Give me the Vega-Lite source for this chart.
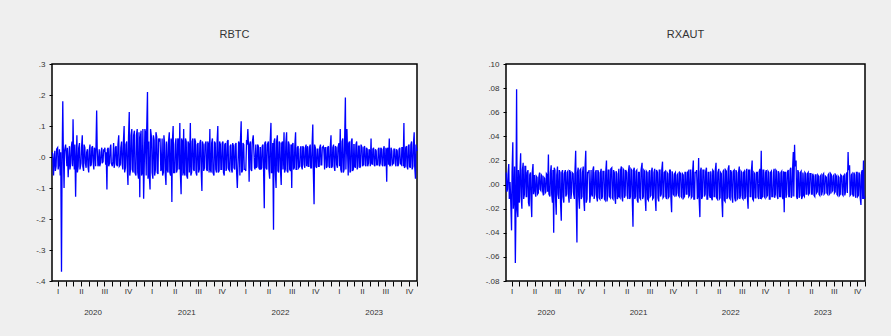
{
"$schema":"https://vega.github.io/schema/vega-lite/v6.json",
"background":"#efefef",
"padding":{"left":34,"top":28,"right":28,"bottom":20},
"data":{"values":[
{"d":"2019-12-11","b":0.015,"g":0.010},{"d":"2019-12-13","b":0.010,"g":-0.006},{"d":"2019-12-16","b":-0.060,"g":-0.004},{"d":"2019-12-18","b":-0.015,"g":0.008},{"d":"2019-12-21","b":0.020,"g":0.017},{"d":"2019-12-23","b":-0.045,"g":-0.012},{"d":"2019-12-26","b":-0.030,"g":0.002},{"d":"2019-12-28","b":0.025,"g":-0.008},
{"d":"2020-01-01","b":0.030,"g":-0.038},{"d":"2020-01-03","b":-0.040,"g":0.010},{"d":"2020-01-06","b":-0.020,"g":0.035},{"d":"2020-01-08","b":0.025,"g":-0.020},{"d":"2020-01-11","b":-0.060,"g":-0.010},{"d":"2020-01-13","b":0.015,"g":0.015},{"d":"2020-01-16","b":-0.370,"g":-0.065},{"d":"2020-01-18","b":-0.050,"g":-0.030},{"d":"2020-01-21","b":0.180,"g":0.079},{"d":"2020-01-23","b":0.030,"g":-0.020},{"d":"2020-01-26","b":-0.100,"g":-0.027},{"d":"2020-01-28","b":0.020,"g":0.012},
{"d":"2020-02-01","b":0.040,"g":-0.015},{"d":"2020-02-03","b":0.015,"g":0.008},{"d":"2020-02-06","b":-0.030,"g":0.026},{"d":"2020-02-08","b":0.030,"g":-0.010},{"d":"2020-02-11","b":-0.065,"g":-0.020},{"d":"2020-02-13","b":-0.020,"g":0.012},{"d":"2020-02-16","b":0.035,"g":0.018},{"d":"2020-02-18","b":-0.040,"g":-0.012},{"d":"2020-02-21","b":-0.020,"g":-0.008},{"d":"2020-02-23","b":0.030,"g":0.015},{"d":"2020-02-26","b":0.050,"g":0.015},{"d":"2020-02-28","b":-0.030,"g":-0.010},
{"d":"2020-03-01","b":0.122,"g":-0.010},{"d":"2020-03-03","b":0.020,"g":0.010},{"d":"2020-03-06","b":-0.040,"g":0.012},{"d":"2020-03-08","b":0.040,"g":-0.015},{"d":"2020-03-11","b":-0.128,"g":-0.018},{"d":"2020-03-13","b":-0.020,"g":0.008},{"d":"2020-03-16","b":0.070,"g":0.010},{"d":"2020-03-18","b":-0.050,"g":-0.012},{"d":"2020-03-21","b":-0.030,"g":-0.027},{"d":"2020-03-23","b":0.030,"g":0.010},{"d":"2020-03-26","b":0.045,"g":0.017},{"d":"2020-03-28","b":-0.040,"g":-0.008},
{"d":"2020-04-01","b":-0.020,"g":0.008},{"d":"2020-04-03","b":0.030,"g":-0.006},{"d":"2020-04-06","b":0.070,"g":-0.010},{"d":"2020-04-08","b":-0.030,"g":0.007},{"d":"2020-04-11","b":-0.045,"g":0.006},{"d":"2020-04-13","b":0.040,"g":-0.008},{"d":"2020-04-16","b":0.030,"g":-0.007},{"d":"2020-04-18","b":-0.020,"g":0.006},{"d":"2020-04-21","b":-0.035,"g":0.010},{"d":"2020-04-23","b":0.015,"g":-0.004},{"d":"2020-04-26","b":0.025,"g":-0.005},{"d":"2020-04-28","b":-0.030,"g":0.008},
{"d":"2020-05-01","b":-0.050,"g":0.007},{"d":"2020-05-03","b":0.020,"g":-0.005},{"d":"2020-05-06","b":0.040,"g":-0.009},{"d":"2020-05-08","b":-0.030,"g":0.006},{"d":"2020-05-11","b":-0.025,"g":0.005},{"d":"2020-05-13","b":0.030,"g":-0.007},{"d":"2020-05-16","b":0.035,"g":-0.006},{"d":"2020-05-18","b":-0.015,"g":0.009},{"d":"2020-05-21","b":-0.040,"g":0.008},{"d":"2020-05-23","b":0.030,"g":-0.006},{"d":"2020-05-26","b":0.020,"g":0.025},{"d":"2020-05-28","b":-0.030,"g":-0.008},
{"d":"2020-06-01","b":0.150,"g":-0.010},{"d":"2020-06-03","b":0.030,"g":0.010},{"d":"2020-06-06","b":-0.030,"g":0.016},{"d":"2020-06-08","b":-0.025,"g":-0.008},{"d":"2020-06-11","b":0.025,"g":-0.015},{"d":"2020-06-13","b":-0.030,"g":0.012},{"d":"2020-06-16","b":-0.020,"g":-0.040},{"d":"2020-06-18","b":0.015,"g":0.014},{"d":"2020-06-21","b":0.030,"g":0.012},{"d":"2020-06-23","b":-0.020,"g":-0.010},{"d":"2020-06-26","b":-0.015,"g":-0.025},{"d":"2020-06-28","b":0.025,"g":0.008},
{"d":"2020-07-01","b":0.020,"g":0.015},{"d":"2020-07-03","b":0.030,"g":-0.008},{"d":"2020-07-06","b":-0.025,"g":-0.012},{"d":"2020-07-08","b":0.015,"g":0.012},{"d":"2020-07-11","b":-0.105,"g":0.010},{"d":"2020-07-13","b":0.025,"g":-0.015},{"d":"2020-07-16","b":0.030,"g":-0.030},{"d":"2020-07-18","b":-0.030,"g":0.010},{"d":"2020-07-21","b":-0.020,"g":0.012},{"d":"2020-07-23","b":0.025,"g":-0.010},{"d":"2020-07-26","b":0.040,"g":-0.015},{"d":"2020-07-28","b":-0.020,"g":0.009},
{"d":"2020-08-01","b":-0.030,"g":0.012},{"d":"2020-08-03","b":-0.015,"g":-0.010},{"d":"2020-08-06","b":0.045,"g":-0.008},{"d":"2020-08-08","b":-0.035,"g":0.010},{"d":"2020-08-11","b":-0.020,"g":0.011},{"d":"2020-08-13","b":0.030,"g":-0.008},{"d":"2020-08-16","b":0.035,"g":-0.015},{"d":"2020-08-18","b":-0.025,"g":0.012},{"d":"2020-08-21","b":-0.030,"g":0.010},{"d":"2020-08-23","b":0.040,"g":-0.012},{"d":"2020-08-26","b":0.070,"g":-0.006},{"d":"2020-08-28","b":-0.030,"g":0.010},
{"d":"2020-09-01","b":-0.025,"g":0.009},{"d":"2020-09-03","b":0.030,"g":-0.008},{"d":"2020-09-06","b":0.050,"g":-0.012},{"d":"2020-09-08","b":-0.020,"g":0.010},{"d":"2020-09-11","b":-0.040,"g":0.028},{"d":"2020-09-13","b":0.045,"g":-0.012},{"d":"2020-09-16","b":0.100,"g":-0.048},{"d":"2020-09-18","b":-0.050,"g":0.010},{"d":"2020-09-21","b":-0.035,"g":0.014},{"d":"2020-09-23","b":0.040,"g":-0.010},{"d":"2020-09-26","b":0.050,"g":-0.020},{"d":"2020-09-28","b":-0.030,"g":0.012},
{"d":"2020-10-01","b":-0.090,"g":0.013},{"d":"2020-10-03","b":0.060,"g":-0.012},{"d":"2020-10-06","b":0.145,"g":-0.010},{"d":"2020-10-08","b":-0.060,"g":0.010},{"d":"2020-10-11","b":-0.040,"g":0.015},{"d":"2020-10-13","b":0.070,"g":-0.012},{"d":"2020-10-16","b":0.090,"g":-0.022},{"d":"2020-10-18","b":-0.040,"g":0.014},{"d":"2020-10-21","b":-0.050,"g":0.028},{"d":"2020-10-23","b":0.070,"g":-0.015},{"d":"2020-10-26","b":0.085,"g":-0.012},{"d":"2020-10-28","b":-0.050,"g":0.010},
{"d":"2020-11-01","b":-0.060,"g":0.010},{"d":"2020-11-03","b":0.070,"g":0.012},{"d":"2020-11-06","b":0.090,"g":-0.015},{"d":"2020-11-08","b":-0.050,"g":-0.010},{"d":"2020-11-11","b":-0.070,"g":0.012},{"d":"2020-11-13","b":0.080,"g":-0.008},{"d":"2020-11-16","b":-0.130,"g":-0.010},{"d":"2020-11-18","b":0.060,"g":0.012},{"d":"2020-11-21","b":0.085,"g":0.015},{"d":"2020-11-23","b":-0.060,"g":-0.012},{"d":"2020-11-26","b":-0.050,"g":-0.008},{"d":"2020-11-28","b":0.090,"g":0.010},
{"d":"2020-12-01","b":-0.135,"g":0.012},{"d":"2020-12-03","b":-0.050,"g":-0.010},{"d":"2020-12-06","b":0.090,"g":-0.014},{"d":"2020-12-08","b":0.080,"g":0.012},{"d":"2020-12-11","b":-0.060,"g":0.010},{"d":"2020-12-13","b":0.090,"g":-0.011},{"d":"2020-12-16","b":0.210,"g":-0.012},{"d":"2020-12-18","b":-0.070,"g":0.010},{"d":"2020-12-21","b":0.050,"g":0.013},{"d":"2020-12-23","b":-0.060,"g":-0.012},{"d":"2020-12-26","b":-0.105,"g":-0.010},{"d":"2020-12-28","b":0.090,"g":0.011},
{"d":"2021-01-01","b":0.060,"g":0.011},{"d":"2021-01-03","b":-0.050,"g":-0.012},{"d":"2021-01-06","b":-0.070,"g":-0.013},{"d":"2021-01-08","b":0.070,"g":0.010},{"d":"2021-01-11","b":0.055,"g":0.020},{"d":"2021-01-13","b":-0.060,"g":-0.014},{"d":"2021-01-16","b":-0.040,"g":-0.009},{"d":"2021-01-18","b":0.080,"g":0.012},{"d":"2021-01-21","b":0.065,"g":0.012},{"d":"2021-01-23","b":-0.050,"g":-0.010},{"d":"2021-01-26","b":-0.055,"g":-0.011},{"d":"2021-01-28","b":0.060,"g":0.013},
{"d":"2021-02-01","b":0.050,"g":0.014},{"d":"2021-02-03","b":0.060,"g":-0.011},{"d":"2021-02-06","b":-0.045,"g":-0.012},{"d":"2021-02-08","b":-0.040,"g":0.012},{"d":"2021-02-11","b":0.060,"g":0.010},{"d":"2021-02-13","b":-0.060,"g":-0.010},{"d":"2021-02-16","b":-0.050,"g":-0.016},{"d":"2021-02-18","b":0.070,"g":0.011},{"d":"2021-02-21","b":0.040,"g":0.009},{"d":"2021-02-23","b":-0.050,"g":-0.012},{"d":"2021-02-26","b":-0.090,"g":-0.010},{"d":"2021-02-28","b":0.050,"g":0.010},
{"d":"2021-03-01","b":0.040,"g":0.013},{"d":"2021-03-03","b":-0.040,"g":-0.010},{"d":"2021-03-06","b":-0.050,"g":-0.011},{"d":"2021-03-08","b":0.050,"g":0.012},{"d":"2021-03-11","b":0.080,"g":0.015},{"d":"2021-03-13","b":-0.050,"g":-0.010},{"d":"2021-03-16","b":-0.060,"g":-0.014},{"d":"2021-03-18","b":0.060,"g":0.013},{"d":"2021-03-21","b":-0.145,"g":0.012},{"d":"2021-03-23","b":0.050,"g":-0.011},{"d":"2021-03-26","b":0.100,"g":-0.009},{"d":"2021-03-28","b":-0.050,"g":0.012},
{"d":"2021-04-01","b":-0.050,"g":0.010},{"d":"2021-04-03","b":0.040,"g":-0.009},{"d":"2021-04-06","b":0.060,"g":-0.012},{"d":"2021-04-08","b":-0.050,"g":0.011},{"d":"2021-04-11","b":-0.040,"g":0.016},{"d":"2021-04-13","b":0.060,"g":-0.012},{"d":"2021-04-16","b":0.055,"g":-0.010},{"d":"2021-04-18","b":-0.040,"g":0.013},{"d":"2021-04-21","b":0.110,"g":0.012},{"d":"2021-04-23","b":-0.050,"g":-0.010},{"d":"2021-04-26","b":-0.120,"g":-0.035},{"d":"2021-04-28","b":0.060,"g":0.012},
{"d":"2021-05-01","b":0.050,"g":0.014},{"d":"2021-05-03","b":-0.060,"g":-0.012},{"d":"2021-05-06","b":0.090,"g":-0.010},{"d":"2021-05-08","b":-0.050,"g":0.011},{"d":"2021-05-11","b":-0.060,"g":0.012},{"d":"2021-05-13","b":0.060,"g":-0.013},{"d":"2021-05-16","b":0.050,"g":-0.015},{"d":"2021-05-18","b":-0.060,"g":0.010},{"d":"2021-05-21","b":-0.070,"g":0.010},{"d":"2021-05-23","b":0.050,"g":-0.011},{"d":"2021-05-26","b":0.040,"g":-0.012},{"d":"2021-05-28","b":-0.050,"g":0.012},
{"d":"2021-06-01","b":0.110,"g":0.018},{"d":"2021-06-03","b":-0.060,"g":-0.012},{"d":"2021-06-06","b":-0.050,"g":-0.010},{"d":"2021-06-08","b":0.050,"g":0.012},{"d":"2021-06-11","b":0.060,"g":0.011},{"d":"2021-06-13","b":-0.040,"g":-0.010},{"d":"2021-06-16","b":-0.045,"g":-0.022},{"d":"2021-06-18","b":0.060,"g":0.011},{"d":"2021-06-21","b":0.050,"g":0.010},{"d":"2021-06-23","b":-0.050,"g":-0.012},{"d":"2021-06-26","b":-0.060,"g":-0.013},{"d":"2021-06-28","b":0.040,"g":0.010},
{"d":"2021-07-01","b":0.045,"g":0.012},{"d":"2021-07-03","b":-0.050,"g":-0.010},{"d":"2021-07-06","b":-0.040,"g":-0.009},{"d":"2021-07-08","b":0.045,"g":0.011},{"d":"2021-07-11","b":0.055,"g":0.014},{"d":"2021-07-13","b":-0.040,"g":-0.012},{"d":"2021-07-16","b":-0.110,"g":-0.011},{"d":"2021-07-18","b":0.050,"g":0.010},{"d":"2021-07-21","b":0.040,"g":0.013},{"d":"2021-07-23","b":-0.045,"g":-0.010},{"d":"2021-07-26","b":-0.035,"g":-0.022},{"d":"2021-07-28","b":0.040,"g":0.012},
{"d":"2021-08-01","b":0.050,"g":0.010},{"d":"2021-08-03","b":-0.040,"g":-0.011},{"d":"2021-08-06","b":-0.045,"g":-0.014},{"d":"2021-08-08","b":0.050,"g":0.012},{"d":"2021-08-11","b":0.040,"g":0.012},{"d":"2021-08-13","b":-0.050,"g":-0.010},{"d":"2021-08-16","b":0.090,"g":-0.008},{"d":"2021-08-18","b":-0.040,"g":0.012},{"d":"2021-08-21","b":-0.050,"g":0.019},{"d":"2021-08-23","b":0.045,"g":-0.011},{"d":"2021-08-26","b":0.060,"g":-0.010},{"d":"2021-08-28","b":-0.050,"g":0.010},
{"d":"2021-09-01","b":-0.060,"g":0.011},{"d":"2021-09-03","b":0.050,"g":-0.010},{"d":"2021-09-06","b":0.045,"g":-0.012},{"d":"2021-09-08","b":-0.040,"g":0.010},{"d":"2021-09-11","b":-0.050,"g":0.009},{"d":"2021-09-13","b":0.045,"g":-0.011},{"d":"2021-09-16","b":0.100,"g":-0.010},{"d":"2021-09-18","b":-0.050,"g":0.012},{"d":"2021-09-21","b":-0.045,"g":0.012},{"d":"2021-09-23","b":0.050,"g":-0.010},{"d":"2021-09-26","b":0.040,"g":-0.023},{"d":"2021-09-28","b":-0.040,"g":0.011},
{"d":"2021-10-01","b":-0.040,"g":0.008},{"d":"2021-10-03","b":0.045,"g":-0.008},{"d":"2021-10-06","b":0.050,"g":-0.009},{"d":"2021-10-08","b":-0.050,"g":0.009},{"d":"2021-10-11","b":-0.060,"g":0.010},{"d":"2021-10-13","b":0.040,"g":-0.010},{"d":"2021-10-16","b":0.045,"g":-0.007},{"d":"2021-10-18","b":-0.045,"g":0.008},{"d":"2021-10-21","b":-0.035,"g":0.009},{"d":"2021-10-23","b":0.050,"g":-0.009},{"d":"2021-10-26","b":0.055,"g":-0.010},{"d":"2021-10-28","b":-0.040,"g":0.010},
{"d":"2021-11-01","b":-0.045,"g":0.009},{"d":"2021-11-03","b":0.035,"g":-0.010},{"d":"2021-11-06","b":0.040,"g":-0.011},{"d":"2021-11-08","b":-0.040,"g":0.009},{"d":"2021-11-11","b":-0.050,"g":0.008},{"d":"2021-11-13","b":0.045,"g":-0.011},{"d":"2021-11-16","b":0.035,"g":-0.010},{"d":"2021-11-18","b":-0.035,"g":0.010},{"d":"2021-11-21","b":-0.040,"g":0.010},{"d":"2021-11-23","b":0.040,"g":-0.008},{"d":"2021-11-26","b":0.045,"g":-0.008},{"d":"2021-11-28","b":-0.045,"g":0.010},
{"d":"2021-12-01","b":-0.100,"g":0.011},{"d":"2021-12-03","b":-0.040,"g":-0.010},{"d":"2021-12-06","b":0.050,"g":-0.009},{"d":"2021-12-08","b":0.045,"g":0.012},{"d":"2021-12-11","b":-0.060,"g":0.012},{"d":"2021-12-13","b":0.050,"g":-0.011},{"d":"2021-12-16","b":0.115,"g":-0.010},{"d":"2021-12-18","b":-0.050,"g":0.010},{"d":"2021-12-21","b":-0.045,"g":0.020},{"d":"2021-12-23","b":0.045,"g":-0.012},{"d":"2021-12-26","b":0.040,"g":-0.012},{"d":"2021-12-28","b":-0.040,"g":0.010},
{"d":"2022-01-01","b":-0.040,"g":0.010},{"d":"2022-01-03","b":-0.045,"g":0.012},{"d":"2022-01-06","b":0.055,"g":-0.012},{"d":"2022-01-08","b":0.040,"g":-0.010},{"d":"2022-01-11","b":0.090,"g":0.022},{"d":"2022-01-13","b":0.050,"g":-0.012},{"d":"2022-01-16","b":-0.080,"g":-0.027},{"d":"2022-01-18","b":0.040,"g":0.011},{"d":"2022-01-21","b":0.050,"g":0.014},{"d":"2022-01-23","b":-0.040,"g":-0.012},{"d":"2022-01-26","b":-0.045,"g":-0.010},{"d":"2022-01-28","b":0.045,"g":0.012},
{"d":"2022-02-01","b":0.070,"g":0.012},{"d":"2022-02-03","b":0.030,"g":-0.010},{"d":"2022-02-06","b":-0.035,"g":-0.008},{"d":"2022-02-08","b":-0.040,"g":0.011},{"d":"2022-02-11","b":0.040,"g":0.014},{"d":"2022-02-13","b":-0.035,"g":-0.012},{"d":"2022-02-16","b":-0.030,"g":-0.012},{"d":"2022-02-18","b":0.040,"g":0.010},{"d":"2022-02-21","b":0.035,"g":0.010},{"d":"2022-02-23","b":-0.035,"g":-0.009},{"d":"2022-02-26","b":-0.040,"g":-0.011},{"d":"2022-02-28","b":0.030,"g":0.011},
{"d":"2022-03-01","b":0.030,"g":0.009},{"d":"2022-03-03","b":-0.040,"g":-0.011},{"d":"2022-03-06","b":-0.035,"g":-0.013},{"d":"2022-03-08","b":0.035,"g":0.012},{"d":"2022-03-11","b":0.040,"g":0.011},{"d":"2022-03-13","b":-0.030,"g":-0.010},{"d":"2022-03-16","b":-0.165,"g":-0.010},{"d":"2022-03-18","b":0.045,"g":0.012},{"d":"2022-03-21","b":0.050,"g":0.018},{"d":"2022-03-23","b":-0.035,"g":-0.011},{"d":"2022-03-26","b":-0.040,"g":-0.012},{"d":"2022-03-28","b":0.040,"g":0.010},
{"d":"2022-04-01","b":0.050,"g":0.013},{"d":"2022-04-03","b":-0.040,"g":-0.012},{"d":"2022-04-06","b":-0.070,"g":-0.011},{"d":"2022-04-08","b":0.050,"g":0.010},{"d":"2022-04-11","b":0.110,"g":0.009},{"d":"2022-04-13","b":-0.050,"g":-0.012},{"d":"2022-04-16","b":-0.050,"g":-0.027},{"d":"2022-04-18","b":0.045,"g":0.011},{"d":"2022-04-21","b":-0.235,"g":0.012},{"d":"2022-04-23","b":0.050,"g":-0.013},{"d":"2022-04-26","b":0.060,"g":-0.014},{"d":"2022-04-28","b":-0.050,"g":0.012},
{"d":"2022-05-01","b":-0.100,"g":0.011},{"d":"2022-05-03","b":0.050,"g":-0.012},{"d":"2022-05-06","b":0.070,"g":-0.010},{"d":"2022-05-08","b":-0.045,"g":0.013},{"d":"2022-05-11","b":-0.050,"g":0.016},{"d":"2022-05-13","b":0.050,"g":-0.011},{"d":"2022-05-16","b":0.045,"g":-0.012},{"d":"2022-05-18","b":-0.040,"g":0.012},{"d":"2022-05-21","b":-0.090,"g":0.010},{"d":"2022-05-23","b":0.045,"g":-0.010},{"d":"2022-05-26","b":0.050,"g":-0.015},{"d":"2022-05-28","b":-0.040,"g":0.011},
{"d":"2022-06-01","b":0.080,"g":0.012},{"d":"2022-06-03","b":-0.050,"g":-0.011},{"d":"2022-06-06","b":-0.040,"g":-0.014},{"d":"2022-06-08","b":0.045,"g":0.012},{"d":"2022-06-11","b":0.080,"g":0.010},{"d":"2022-06-13","b":-0.045,"g":-0.012},{"d":"2022-06-16","b":-0.050,"g":-0.011},{"d":"2022-06-18","b":0.050,"g":0.010},{"d":"2022-06-21","b":0.040,"g":0.015},{"d":"2022-06-23","b":-0.040,"g":-0.012},{"d":"2022-06-26","b":-0.045,"g":-0.009},{"d":"2022-06-28","b":0.040,"g":0.011},
{"d":"2022-07-01","b":-0.100,"g":0.010},{"d":"2022-07-03","b":0.040,"g":-0.011},{"d":"2022-07-06","b":0.045,"g":-0.012},{"d":"2022-07-08","b":-0.040,"g":0.010},{"d":"2022-07-11","b":-0.035,"g":0.011},{"d":"2022-07-13","b":0.035,"g":-0.012},{"d":"2022-07-16","b":0.080,"g":-0.010},{"d":"2022-07-18","b":-0.040,"g":0.011},{"d":"2022-07-21","b":-0.040,"g":0.013},{"d":"2022-07-23","b":0.030,"g":-0.010},{"d":"2022-07-26","b":0.035,"g":-0.020},{"d":"2022-07-28","b":-0.035,"g":0.012},
{"d":"2022-08-01","b":-0.030,"g":0.012},{"d":"2022-08-03","b":0.025,"g":-0.010},{"d":"2022-08-06","b":0.035,"g":-0.010},{"d":"2022-08-08","b":-0.030,"g":0.011},{"d":"2022-08-11","b":-0.040,"g":0.020},{"d":"2022-08-13","b":0.035,"g":-0.012},{"d":"2022-08-16","b":0.030,"g":-0.013},{"d":"2022-08-18","b":-0.025,"g":0.010},{"d":"2022-08-21","b":-0.035,"g":0.009},{"d":"2022-08-23","b":0.030,"g":-0.011},{"d":"2022-08-26","b":0.040,"g":-0.011},{"d":"2022-08-28","b":-0.030,"g":0.010},
{"d":"2022-09-01","b":0.035,"g":0.010},{"d":"2022-09-03","b":-0.030,"g":-0.010},{"d":"2022-09-06","b":-0.030,"g":-0.012},{"d":"2022-09-08","b":0.030,"g":0.011},{"d":"2022-09-11","b":0.040,"g":0.013},{"d":"2022-09-13","b":-0.035,"g":-0.012},{"d":"2022-09-16","b":-0.035,"g":0.028},{"d":"2022-09-18","b":0.030,"g":-0.011},{"d":"2022-09-21","b":0.105,"g":-0.010},{"d":"2022-09-23","b":-0.040,"g":0.012},{"d":"2022-09-26","b":-0.152,"g":0.012},{"d":"2022-09-28","b":0.040,"g":-0.010},
{"d":"2022-10-01","b":0.030,"g":-0.011},{"d":"2022-10-03","b":-0.030,"g":0.010},{"d":"2022-10-06","b":-0.035,"g":0.012},{"d":"2022-10-08","b":0.025,"g":-0.010},{"d":"2022-10-11","b":0.025,"g":-0.009},{"d":"2022-10-13","b":-0.030,"g":0.011},{"d":"2022-10-16","b":-0.030,"g":0.010},{"d":"2022-10-18","b":0.030,"g":-0.012},{"d":"2022-10-21","b":0.040,"g":-0.012},{"d":"2022-10-23","b":-0.025,"g":0.010},{"d":"2022-10-26","b":-0.025,"g":0.011},{"d":"2022-10-28","b":0.030,"g":-0.010},
{"d":"2022-11-01","b":0.035,"g":-0.010},{"d":"2022-11-03","b":0.025,"g":0.010},{"d":"2022-11-06","b":-0.040,"g":0.013},{"d":"2022-11-08","b":0.030,"g":-0.011},{"d":"2022-11-11","b":0.030,"g":-0.008},{"d":"2022-11-13","b":-0.035,"g":0.012},{"d":"2022-11-16","b":-0.030,"g":0.011},{"d":"2022-11-18","b":0.030,"g":-0.009},{"d":"2022-11-21","b":0.035,"g":-0.012},{"d":"2022-11-23","b":-0.030,"g":0.011},{"d":"2022-11-26","b":-0.035,"g":0.009},{"d":"2022-11-28","b":0.030,"g":-0.010},
{"d":"2022-12-01","b":0.070,"g":-0.010},{"d":"2022-12-03","b":-0.035,"g":0.010},{"d":"2022-12-06","b":-0.030,"g":0.011},{"d":"2022-12-08","b":0.030,"g":-0.010},{"d":"2022-12-11","b":0.040,"g":-0.012},{"d":"2022-12-13","b":-0.030,"g":0.011},{"d":"2022-12-16","b":-0.045,"g":-0.023},{"d":"2022-12-18","b":0.035,"g":0.010},{"d":"2022-12-21","b":0.030,"g":0.010},{"d":"2022-12-23","b":-0.025,"g":-0.011},{"d":"2022-12-26","b":-0.035,"g":-0.008},{"d":"2022-12-28","b":0.030,"g":0.010},
{"d":"2023-01-01","b":0.045,"g":0.012},{"d":"2023-01-03","b":-0.030,"g":-0.010},{"d":"2023-01-06","b":0.090,"g":-0.010},{"d":"2023-01-08","b":-0.040,"g":0.012},{"d":"2023-01-11","b":-0.050,"g":0.014},{"d":"2023-01-13","b":0.050,"g":-0.011},{"d":"2023-01-16","b":0.060,"g":-0.009},{"d":"2023-01-18","b":-0.050,"g":0.012},{"d":"2023-01-21","b":-0.040,"g":0.027},{"d":"2023-01-23","b":0.050,"g":-0.010},{"d":"2023-01-26","b":0.192,"g":0.033},{"d":"2023-01-28","b":-0.040,"g":0.015},
{"d":"2023-02-01","b":0.090,"g":0.020},{"d":"2023-02-03","b":0.030,"g":-0.010},{"d":"2023-02-06","b":-0.060,"g":-0.012},{"d":"2023-02-08","b":0.045,"g":0.012},{"d":"2023-02-11","b":0.050,"g":0.010},{"d":"2023-02-13","b":-0.050,"g":-0.011},{"d":"2023-02-16","b":-0.045,"g":-0.009},{"d":"2023-02-18","b":0.050,"g":0.010},{"d":"2023-02-21","b":0.060,"g":0.011},{"d":"2023-02-23","b":-0.045,"g":-0.012},{"d":"2023-02-26","b":-0.040,"g":-0.010},{"d":"2023-02-28","b":0.040,"g":0.010},
{"d":"2023-03-01","b":0.040,"g":0.008},{"d":"2023-03-03","b":-0.030,"g":-0.009},{"d":"2023-03-06","b":-0.035,"g":-0.010},{"d":"2023-03-08","b":0.040,"g":0.010},{"d":"2023-03-11","b":0.050,"g":0.009},{"d":"2023-03-13","b":-0.040,"g":-0.008},{"d":"2023-03-16","b":-0.030,"g":-0.008},{"d":"2023-03-18","b":0.035,"g":0.009},{"d":"2023-03-21","b":0.035,"g":0.010},{"d":"2023-03-23","b":-0.035,"g":-0.008},{"d":"2023-03-26","b":-0.030,"g":-0.007},{"d":"2023-03-28","b":0.040,"g":0.009},
{"d":"2023-04-01","b":0.030,"g":0.009},{"d":"2023-04-03","b":-0.030,"g":-0.008},{"d":"2023-04-06","b":-0.025,"g":-0.008},{"d":"2023-04-08","b":0.030,"g":0.009},{"d":"2023-04-11","b":0.035,"g":0.007},{"d":"2023-04-13","b":-0.025,"g":-0.009},{"d":"2023-04-16","b":-0.030,"g":-0.010},{"d":"2023-04-18","b":0.030,"g":0.008},{"d":"2023-04-21","b":0.025,"g":0.008},{"d":"2023-04-23","b":-0.030,"g":-0.007},{"d":"2023-04-26","b":-0.020,"g":-0.006},{"d":"2023-04-28","b":0.025,"g":0.008},
{"d":"2023-05-01","b":0.020,"g":0.007},{"d":"2023-05-03","b":-0.030,"g":-0.008},{"d":"2023-05-06","b":0.060,"g":-0.009},{"d":"2023-05-08","b":-0.020,"g":0.007},{"d":"2023-05-11","b":-0.025,"g":0.008},{"d":"2023-05-13","b":0.025,"g":-0.009},{"d":"2023-05-16","b":0.030,"g":-0.006},{"d":"2023-05-18","b":-0.025,"g":0.008},{"d":"2023-05-21","b":-0.030,"g":0.009},{"d":"2023-05-23","b":0.025,"g":-0.008},{"d":"2023-05-26","b":0.020,"g":-0.007},{"d":"2023-05-28","b":-0.025,"g":0.007},
{"d":"2023-06-01","b":-0.025,"g":0.006},{"d":"2023-06-03","b":0.025,"g":-0.007},{"d":"2023-06-06","b":0.030,"g":-0.008},{"d":"2023-06-08","b":-0.030,"g":0.008},{"d":"2023-06-11","b":-0.020,"g":0.009},{"d":"2023-06-13","b":0.030,"g":-0.008},{"d":"2023-06-16","b":0.025,"g":-0.007},{"d":"2023-06-18","b":-0.025,"g":0.009},{"d":"2023-06-21","b":-0.030,"g":0.008},{"d":"2023-06-23","b":0.025,"g":-0.006},{"d":"2023-06-26","b":0.035,"g":-0.005},{"d":"2023-06-28","b":-0.030,"g":0.007},
{"d":"2023-07-01","b":-0.020,"g":0.008},{"d":"2023-07-03","b":0.030,"g":-0.007},{"d":"2023-07-06","b":-0.080,"g":-0.006},{"d":"2023-07-08","b":0.025,"g":0.008},{"d":"2023-07-11","b":0.030,"g":0.007},{"d":"2023-07-13","b":-0.025,"g":-0.008},{"d":"2023-07-16","b":0.060,"g":-0.009},{"d":"2023-07-18","b":-0.030,"g":0.007},{"d":"2023-07-21","b":-0.025,"g":0.006},{"d":"2023-07-23","b":0.030,"g":-0.009},{"d":"2023-07-26","b":0.020,"g":-0.008},{"d":"2023-07-28","b":-0.025,"g":0.008},
{"d":"2023-08-01","b":-0.020,"g":0.007},{"d":"2023-08-03","b":0.025,"g":-0.008},{"d":"2023-08-06","b":0.025,"g":-0.009},{"d":"2023-08-08","b":-0.020,"g":0.007},{"d":"2023-08-11","b":-0.030,"g":0.008},{"d":"2023-08-13","b":0.025,"g":-0.009},{"d":"2023-08-16","b":0.020,"g":-0.006},{"d":"2023-08-18","b":-0.030,"g":0.008},{"d":"2023-08-21","b":-0.025,"g":0.010},{"d":"2023-08-23","b":0.025,"g":-0.007},{"d":"2023-08-26","b":0.030,"g":0.027},{"d":"2023-08-28","b":-0.020,"g":0.012},
{"d":"2023-09-01","b":-0.025,"g":0.016},{"d":"2023-09-03","b":0.030,"g":-0.009},{"d":"2023-09-06","b":0.030,"g":-0.008},{"d":"2023-09-08","b":-0.030,"g":0.008},{"d":"2023-09-11","b":0.110,"g":0.009},{"d":"2023-09-13","b":-0.035,"g":-0.008},{"d":"2023-09-16","b":-0.030,"g":-0.010},{"d":"2023-09-18","b":0.030,"g":0.010},{"d":"2023-09-21","b":0.035,"g":0.008},{"d":"2023-09-23","b":-0.030,"g":-0.009},{"d":"2023-09-26","b":-0.040,"g":-0.011},{"d":"2023-09-28","b":0.035,"g":0.010},
{"d":"2023-10-01","b":0.040,"g":0.010},{"d":"2023-10-03","b":-0.030,"g":-0.010},{"d":"2023-10-06","b":-0.035,"g":-0.009},{"d":"2023-10-08","b":0.040,"g":0.010},{"d":"2023-10-11","b":0.050,"g":0.008},{"d":"2023-10-13","b":-0.040,"g":-0.011},{"d":"2023-10-16","b":-0.030,"g":-0.017},{"d":"2023-10-18","b":0.040,"g":0.010},{"d":"2023-10-21","b":0.080,"g":0.012},{"d":"2023-10-23","b":-0.030,"g":-0.012},{"d":"2023-10-26","b":-0.070,"g":0.020},{"d":"2023-10-28","b":0.040,"g":-0.012},
{"d":"2023-11-01","b":0.020,"g":-0.010}
]},
"config":{
 "font":"Liberation Sans",
 "view":{"stroke":"#000000","strokeWidth":1.5,"fill":"#ffffff"},
 "axis":{"grid":false,"domain":false,"labelFont":"Liberation Sans","labelFontSize":8,"labelColor":"#333333","tickColor":"#000000","tickSize":3,"labelPadding":4},
 "title":{"font":"Liberation Sans","fontSize":11,"fontWeight":"normal","color":"#333333","offset":20}
},
"spacing":89,
"bounds":"flush",
"hconcat":[
 {"width":365,"height":217,"title":{"text":"RBTC"},
  "layer":[
   {"mark":{"type":"line","color":"#0000ff","strokeWidth":1.3},
    "encoding":{
     "x":{"field":"d","type":"temporal","scale":{"type":"utc","domain":[{"year":2019,"month":12,"date":10,"utc":true},{"year":2023,"month":11,"date":1,"utc":true}]},
      "axis":{"title":null,"tickCount":{"interval":"month","step":1},"labelExpr":"utcmonth(datum.value)==0?'I':utcmonth(datum.value)==3?'II':utcmonth(datum.value)==6?'III':utcmonth(datum.value)==9?'IV':''","tickSize":5,"labelPadding":1,"labelOverlap":false,"labelFlush":false,"labelBound":false}},
     "y":{"field":"b","type":"quantitative","scale":{"domain":[-0.4,0.3],"nice":false,"zero":false},
      "axis":{"title":null,"values":[-0.4,-0.3,-0.2,-0.1,0,0.1,0.2,0.3],"labelExpr":"replace(replace(format(datum.value,'.1f'),'0.','.'),'−','-')"}}
    }},
   {"mark":{"type":"point","opacity":0},
    "encoding":{
     "x":{"field":"d","type":"temporal",
      "axis":{"title":null,"orient":"bottom","offset":20,"ticks":false,"labelPadding":7,"format":"%Y","labelOverlap":false,"labelFlush":false,
       "values":[{"year":2020,"month":5,"date":16,"utc":true},{"year":2021,"month":5,"date":16,"utc":true},{"year":2022,"month":5,"date":16,"utc":true},{"year":2023,"month":5,"date":16,"utc":true}]}}
    }}
  ],
  "resolve":{"axis":{"x":"independent"}}
 },
 {"width":359,"height":217,"title":{"text":"RXAUT"},
  "layer":[
   {"mark":{"type":"line","color":"#0000ff","strokeWidth":1.3},
    "encoding":{
     "x":{"field":"d","type":"temporal","scale":{"type":"utc","domain":[{"year":2019,"month":12,"date":10,"utc":true},{"year":2023,"month":11,"date":1,"utc":true}]},
      "axis":{"title":null,"tickCount":{"interval":"month","step":1},"labelExpr":"utcmonth(datum.value)==0?'I':utcmonth(datum.value)==3?'II':utcmonth(datum.value)==6?'III':utcmonth(datum.value)==9?'IV':''","tickSize":5,"labelPadding":1,"labelOverlap":false,"labelFlush":false,"labelBound":false}},
     "y":{"field":"g","type":"quantitative","scale":{"domain":[-0.08,0.1],"nice":false,"zero":false},
      "axis":{"title":null,"values":[-0.08,-0.06,-0.04,-0.02,0,0.02,0.04,0.06,0.08,0.1],"labelExpr":"replace(replace(format(datum.value,'.2f'),'0.','.'),'−','-')"}}
    }},
   {"mark":{"type":"point","opacity":0},
    "encoding":{
     "x":{"field":"d","type":"temporal",
      "axis":{"title":null,"orient":"bottom","offset":20,"ticks":false,"labelPadding":7,"format":"%Y","labelOverlap":false,"labelFlush":false,
       "values":[{"year":2020,"month":5,"date":16,"utc":true},{"year":2021,"month":5,"date":16,"utc":true},{"year":2022,"month":5,"date":16,"utc":true},{"year":2023,"month":5,"date":16,"utc":true}]}}
    }}
  ],
  "resolve":{"axis":{"x":"independent"}}
 }
]
}
